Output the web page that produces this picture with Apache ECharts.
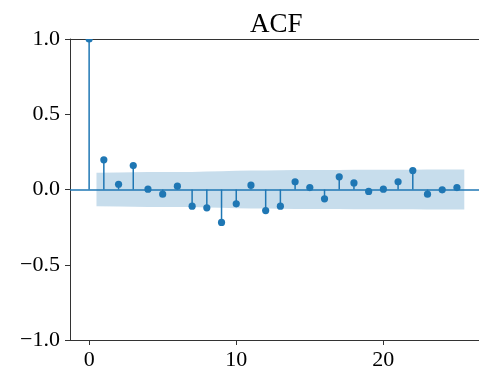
<!DOCTYPE html>
<html>
<head>
<meta charset="utf-8">
<script src="https://cdn.jsdelivr.net/npm/echarts@6/dist/echarts.min.js"></script>
<style>
  html, body { margin: 0; padding: 0; background: #fff; }
  #chart { width: 479px; height: 367px; }
</style>
</head>
<body>
<div id="chart"></div>
<script>
const lags = [0, 1, 2, 3, 4, 5, 6, 7, 8, 9, 10, 11, 12, 13, 14, 15, 16, 17, 18, 19, 20, 21, 22, 23, 24, 25];
const acfValues = [1.0, 0.197, 0.035, 0.159, 0.002, -0.031, 0.022, -0.111, -0.122, -0.219,
  -0.095, 0.029, -0.14, -0.111, 0.051, 0.013, -0.062, 0.084, 0.044, -0.013,
  0.002, 0.051, 0.126, -0.031, -0.002, 0.013];
// half width of the confidence band, lags 1..25
const bandHalf = [0.112, 0.113, 0.114, 0.116, 0.116, 0.116, 0.117, 0.119, 0.121, 0.125,
  0.126, 0.126, 0.128, 0.13, 0.13, 0.13, 0.13, 0.131, 0.131, 0.131,
  0.131, 0.131, 0.133, 0.133, 0.133];
const xTicks = [0, 10, 20];

const blue = "#1f77b4";
const spine = "#333";
const serif = "Liberation Serif, Times New Roman, serif";
const xMin = -1.3;
const xMax = 26.5;

// band drawn from lag 0.5 to lag 25.5, like statsmodels does
const bandX = lags.slice(1).map((l, i, arr) =>
  i === 0 ? l - 0.5 : i === arr.length - 1 ? l + 0.5 : l
);
const bandUpper = bandX.map((x, i) => [x, bandHalf[i]]);
const bandLower = bandX.map((x, i) => [x, -bandHalf[i]]);
const stemData = lags.map((l, i) => [l, acfValues[i]]);

const myChart = echarts.init(document.getElementById("chart"));
myChart.setOption({
  animation: false,
  title: {
    text: "ACF",
    left: 245,
    top: 6,
    textStyle: { fontFamily: serif, fontSize: 27, fontWeight: "normal", color: "#000" },
  },
  grid: {
    left: 70,
    right: 0,
    top: 39,
    bottom: 27,
    outerBoundsMode: "none",
  },
  xAxis: [
    {
      type: "value",
      min: xMin,
      max: xMax,
      axisLine: { show: true, onZero: false, lineStyle: { color: spine, width: 1 } },
      axisTick: { show: true, length: 5, customValues: xTicks, lineStyle: { color: spine } },
      axisLabel: {
        customValues: xTicks,
        margin: 9,
        color: "#000",
        fontFamily: serif,
        fontSize: 22,
      },
      splitLine: { show: false },
    },
    {
      // top spine only
      type: "value",
      position: "top",
      min: xMin,
      max: xMax,
      axisLine: { show: true, onZero: false, lineStyle: { color: spine, width: 1 } },
      axisTick: { show: false },
      axisLabel: { show: false },
      splitLine: { show: false },
    },
  ],
  yAxis: {
    type: "value",
    min: -1,
    max: 1,
    interval: 0.5,
    axisLine: { show: true, onZero: false, lineStyle: { color: spine, width: 1 } },
    axisTick: { show: true, length: 5, lineStyle: { color: spine } },
    axisLabel: {
      margin: 10,
      color: "#000",
      fontFamily: serif,
      fontSize: 22,
      formatter: (v) => v.toFixed(1).replace("-", "\u2212"),
    },
    splitLine: { show: false },
  },
  series: [
    {
      type: "line",
      data: bandUpper,
      symbol: "none",
      lineStyle: { width: 0, opacity: 0 },
      areaStyle: { color: "rgba(31,119,180,0.25)", opacity: 1 },
      z: 1,
    },
    {
      type: "line",
      data: bandLower,
      symbol: "none",
      lineStyle: { width: 0, opacity: 0 },
      areaStyle: { color: "rgba(31,119,180,0.25)", opacity: 1 },
      z: 1,
      markLine: {
        silent: true,
        symbol: "none",
        label: { show: false },
        lineStyle: { color: blue, width: 1.5, type: "solid" },
        data: [{ yAxis: 0 }],
        z: 3,
      },
    },
    {
      type: "custom",
      clip: true,
      z: 4,
      data: stemData,
      renderItem: (params, api) => {
        const base = api.coord([api.value(0), 0]);
        const tip = api.coord([api.value(0), api.value(1)]);
        return {
          type: "group",
          children: [
            {
              type: "line",
              shape: { x1: base[0], y1: base[1], x2: tip[0], y2: tip[1] },
              style: { stroke: blue, lineWidth: 1.5 },
            },
            {
              type: "circle",
              shape: { cx: tip[0], cy: tip[1], r: 3.6 },
              style: { fill: blue },
            },
          ],
        };
      },
    },
  ],
});
</script>
</body>
</html>
